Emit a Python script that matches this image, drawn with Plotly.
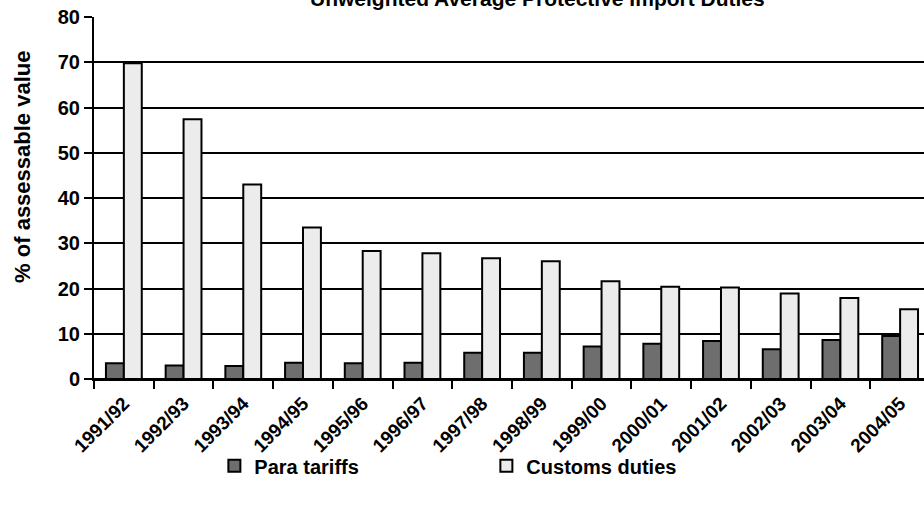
import plotly.graph_objects as go

years = ["1991/92", "1992/93", "1993/94", "1994/95", "1995/96", "1996/97", "1997/98",
         "1998/99", "1999/00", "2000/01", "2001/02", "2002/03", "2003/04", "2004/05"]
para_tariffs = [3.5, 3.0, 2.9, 3.6, 3.5, 3.6, 5.8, 5.8, 7.2, 7.8, 8.4, 6.6, 8.6, 9.5]
customs_duties = [69.8, 57.4, 43.0, 33.5, 28.3, 27.8, 26.7, 26.0, 21.6, 20.4, 20.2, 18.9, 17.9, 15.4]
y_ticks = [0, 10, 20, 30, 40, 50, 60, 70, 80]

FONT = "Liberation Sans, Arial, sans-serif"


def main() -> None:
    fig = go.Figure()
    fig.add_trace(go.Bar(
        x=years, y=para_tariffs, name="Para tariffs",
        marker=dict(color="#6e6e6e", line=dict(color="black", width=2)),
    ))
    fig.add_trace(go.Bar(
        x=years, y=customs_duties, name="Customs duties",
        marker=dict(color="#ececec", line=dict(color="black", width=2)),
    ))

    fig.update_layout(
        width=924, height=506,
        margin=dict(l=94, r=0, t=17, b=127, autoexpand=False),
        plot_bgcolor="white", paper_bgcolor="white",
        barmode="group", bargap=0.4, bargroupgap=0,
        font=dict(family=FONT, color="black", size=19, weight="bold"),
        xaxis=dict(
            range=[-0.5, 13.4], tickangle=-45, tickson="boundaries", automargin=False,
            ticks="outside", ticklen=8, tickwidth=2, tickcolor="black",
            ticklabelstandoff=4,
            showline=True, linecolor="black", linewidth=2, showgrid=False,
            tickfont=dict(family=FONT, size=19, weight="bold"),
        ),
        yaxis=dict(
            range=[0, 80], tickvals=y_ticks, automargin=False,
            ticks="outside", ticklen=8, tickwidth=2, tickcolor="black",
            showline=True, linecolor="black", linewidth=2,
            showgrid=True, gridcolor="black", gridwidth=2,
            zeroline=True, zerolinecolor="black", zerolinewidth=2,
            tickfont=dict(family=FONT, size=20, weight="bold"),
        ),
        legend=dict(
            orientation="h", xref="container", yref="container",
            x=0.232, y=0.118, xanchor="left", yanchor="top",
            bgcolor="rgba(0,0,0,0)",
            entrywidth=227, font=dict(family=FONT, size=20, weight="bold"),
        ),
        annotations=[
            dict(text="Unweighted Average Protective Import Duties", xref="paper", yref="paper",
                 x=0.534, y=1.052, xanchor="center", yanchor="middle", showarrow=False,
                 font=dict(family=FONT, size=21, weight="bold")),
            dict(text="% of assessable value", xref="paper", yref="paper",
                 x=-0.0855, y=0.586, xanchor="center", yanchor="middle", textangle=-90,
                 showarrow=False, font=dict(family=FONT, size=22, weight="bold")),
        ],
    )

    # page body has an 8px default margin; drop it so the figure sits at 0,0
    fig.write_html("out.html", config={"displayModeBar": False},
                   post_script="document.body.style.margin='0';")


if __name__ == "__main__":
    main()
